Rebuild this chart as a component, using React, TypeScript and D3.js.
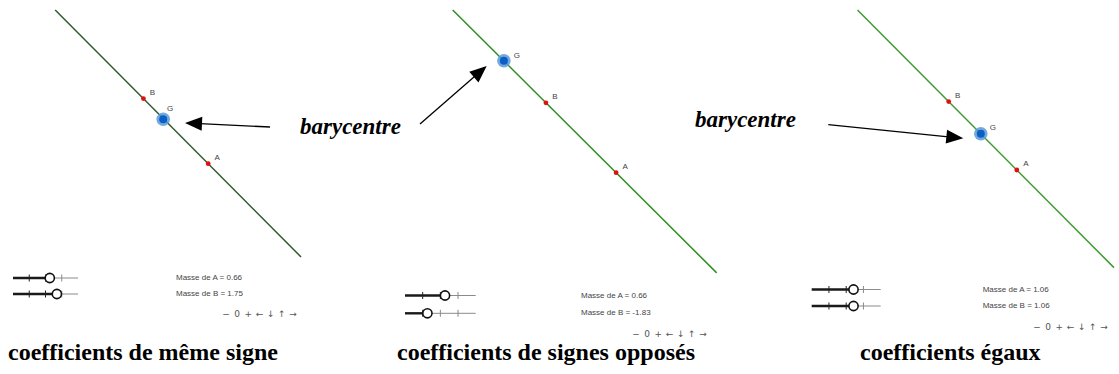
import React from "react";
import * as d3 from "d3";

// ---------- data ----------
const panelTitles = [
  "coefficients de même signe",
  "coefficients de signes opposés",
  "coefficients égaux",
];
const massA = [0.66, 0.66, 1.06];
const massB = [1.75, -1.83, 1.06];
// point coordinates in each panel's math frame (units)
const pointA = [
  [6.94, 3.21],
  [7.47, 2.91],
  [7.26, 3.0],
];
const pointB = [
  [4.78, 5.38],
  [5.13, 5.24],
  [4.99, 5.28],
];
const pointG = [
  [5.44, 4.69],
  [3.73, 6.64],
  [6.06, 4.21],
];
const sliderDomain = [-5, 5];
const sliderTicks = [-2.5, 0, 2.5];
const controlGlyphs = ["−", "0", "+", "←", "↓", "↑", "→"];
const annotationLabel = "barycentre";

// ---------- layout ----------
const W = 1119;
const H = 374;
const UNIT = 30;
const panels = [
  { left: 0, right: 301, lineColor: "#2f5a2c", gOff: [7, -10], slider: { x0: 13, x1: 78, y: [278, 294] }, text: { x: 176, y: [278, 294] }, ctrl: { x: 226, y: 314 }, titleX: 8 },
  { left: 392, right: 716.7, lineColor: "#2a8f22", gOff: [13, -5], slider: { x0: 405, x1: 475.7, y: [295.5, 313.3] }, text: { x: 581, y: [295.7, 313.3] }, ctrl: { x: 636, y: 334 }, titleX: 397 },
  { left: 799, right: 1114, lineColor: "#3d9a30", gOff: [12, -6], slider: { x0: 811.7, x1: 880.7, y: [289.5, 306] }, text: { x: 982.7, y: [290, 306] }, ctrl: { x: 1037, y: 327 }, titleX: 860 },
];
const TOP_Y = 10;
const BASE_Y = 260;
const annotations = [
  { text: { x: 300, y: 134 }, from: [270, 127], to: [185, 123] },
  { text: null, from: [420, 124], to: [486.7, 66] },
  { text: { x: 695, y: 127 }, from: [828.3, 124.7], to: [963.3, 138.3] },
];

function Arrow({ from, to }: { from: number[]; to: number[] }) {
  const dx = to[0] - from[0];
  const dy = to[1] - from[1];
  const len = Math.hypot(dx, dy);
  const ux = dx / len;
  const uy = dy / len;
  const hl = 17;
  const hw = 7;
  const bx = to[0] - ux * hl;
  const by = to[1] - uy * hl;
  const p1 = [bx - uy * hw, by + ux * hw];
  const p2 = [bx + uy * hw, by - ux * hw];
  return (
    <g>
      <line x1={from[0]} y1={from[1]} x2={bx + ux * 2} y2={by + uy * 2} stroke="#000" strokeWidth={1.3} />
      <polygon points={`${to[0]},${to[1]} ${p1[0]},${p1[1]} ${p2[0]},${p2[1]}`} fill="#000" />
    </g>
  );
}

function Slider({ x0, x1, y, value }: { x0: number; x1: number; y: number; value: number }) {
  const s = d3.scaleLinear().domain(sliderDomain).range([x0, x1]);
  const cx = s(value);
  return (
    <g>
      <line x1={cx} y1={y} x2={x1} y2={y} stroke="#8a8a8a" strokeWidth={1} />
      <line x1={x0} y1={y} x2={cx} y2={y} stroke="#1a1a1a" strokeWidth={2.4} />
      {sliderTicks.map((t) => (
        <line key={t} x1={s(t)} x2={s(t)} y1={y - 3.5} y2={y + 3.5} stroke={t < value ? "#222" : "#8a8a8a"} strokeWidth={1} />
      ))}
      <circle cx={cx} cy={y} r={4.6} fill="#fff" stroke="#111" strokeWidth={1.6} />
    </g>
  );
}

function Panel({ i }: { i: number }) {
  const p = panels[i];
  const xs = d3.scaleLinear().domain([0, 1]).range([p.left, p.left + UNIT]);
  const ys = d3.scaleLinear().domain([0, 1]).range([BASE_Y, BASE_Y - UNIT]);
  const A = pointA[i];
  const B = pointB[i];
  const G = pointG[i];
  const slope = (B[1] - A[1]) / (B[0] - A[0]);
  const topY = ys.invert(TOP_Y);
  const xTop = A[0] + (topY - A[1]) / slope;
  const xRight = xs.invert(p.right);
  const yRight = A[1] + slope * (xRight - A[0]);
  const line = d3.line<number[]>().x((d) => xs(d[0])).y((d) => ys(d[1]));
  const lbl = { fontFamily: "Liberation Sans, Arial, sans-serif", fontSize: 8, fill: "#444" } as const;
  const ctrl = d3.scalePoint<string>().domain(controlGlyphs).range([p.ctrl.x, p.ctrl.x + 67]);
  const masses = [massA[i], massB[i]];
  const names = ["A", "B"];
  return (
    <g>
      <path d={line([[xTop, topY], [xRight, yRight]]) || ""} stroke={p.lineColor} strokeWidth={1.5} fill="none" />
      {[A, B].map((pt, k) => (
        <g key={k}>
          <circle cx={xs(pt[0])} cy={ys(pt[1])} r={2.4} fill="#e01010" />
          <text x={xs(pt[0]) + 9} y={ys(pt[1]) - 6} dominantBaseline="middle" textAnchor="middle" {...lbl}>{names[k]}</text>
        </g>
      ))}
      <circle cx={xs(G[0])} cy={ys(G[1])} r={6.8} fill="#5b9ad8" opacity={0.85} />
      <circle cx={xs(G[0])} cy={ys(G[1])} r={4} fill="#0c5fc4" />
      <text x={xs(G[0]) + p.gOff[0]} y={ys(G[1]) + p.gOff[1]} dominantBaseline="middle" textAnchor="middle" {...lbl}>G</text>
      {masses.map((m, k) => (
        <g key={k}>
          <Slider x0={p.slider.x0} x1={p.slider.x1} y={p.slider.y[k]} value={m} />
          <text x={p.text.x} y={p.text.y[k]} dominantBaseline="middle" {...lbl}>{`Masse de ${names[k]} = ${m.toFixed(2)}`}</text>
        </g>
      ))}
      {controlGlyphs.map((g) => (
        <text key={g} x={ctrl(g)} y={p.ctrl.y} textAnchor="middle" dominantBaseline="middle" fontFamily="DejaVu Sans, sans-serif" fontSize={9} fill="#555">{g}</text>
      ))}
      <text x={p.titleX} y={360} fontFamily="Liberation Serif, Times New Roman, serif" fontWeight="bold" fontSize={24} fill="#000">{panelTitles[i]}</text>
    </g>
  );
}

export default function App() {
  return (
    <svg width={W} height={H} style={{ position: "absolute", left: 0, top: 0, background: "#fff" }}>
      <rect width={W} height={H} fill="#fff" />
      {panels.map((_, i) => (
        <Panel key={i} i={i} />
      ))}
      {annotations.map((a, i) => (
        <g key={i}>
          <Arrow from={a.from} to={a.to} />
          {a.text && (
            <text x={a.text.x} y={a.text.y} fontFamily="Liberation Serif, Times New Roman, serif" fontWeight="bold" fontStyle="italic" fontSize={23} fill="#000">{annotationLabel}</text>
          )}
        </g>
      ))}
    </svg>
  );
}
